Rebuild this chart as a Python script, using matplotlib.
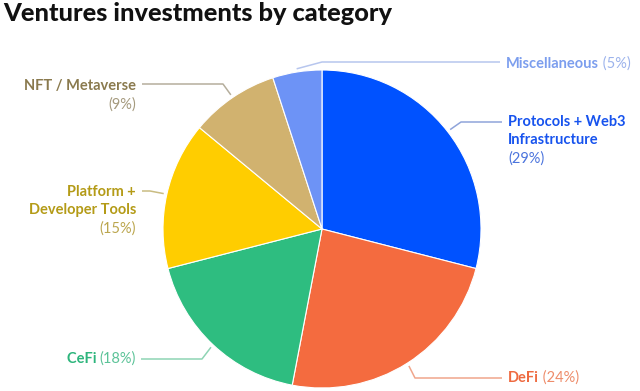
import numpy as np
import matplotlib
matplotlib.use("Agg")
import matplotlib.pyplot as plt

# ---- data ----
categories = ["Protocols + Web3\nInfrastructure", "DeFi", "CeFi",
              "Platform +\nDeveloper Tools", "NFT / Metaverse", "Miscellaneous"]
values = [29, 24, 18, 15, 9, 5]
pct_labels = ["(29%)", "(24%)", "(18%)", "(15%)", "(9%)", "(5%)"]
title = "Ventures investments by category"

# ---- styles ----
wedge_colors = ["#0052FF", "#F46B3F", "#2EBD80", "#FFCD00", "#D1B26F", "#6D93F6"]
name_colors = ["#1753EE", "#EE6A40", "#2DB57C", "#B49B17", "#8A7A4E", "#7C9EEE"]
pct_colors = ["#4B74DD", "#EE8C6A", "#5CC398", "#BBA64E", "#A59A7E", "#9CB3EC"]
line_colors = ["#8FA4DA", "#F0A68C", "#8ED4B4", "#C9BC82", "#B5AE9C", "#B7C6EE"]

W, H = 640, 391
def Y(py):
    return H - py

FONT = "Lato"
fig = plt.figure(figsize=(6.4, 3.91), dpi=100)
ax = fig.add_axes([0, 0, 1, 1])
cx, cy, R = 322, 229, 159
wedges, _ = ax.pie(values, colors=wedge_colors, startangle=90, counterclock=False,
                   center=(cx, Y(cy)), radius=R,
                   wedgeprops=dict(edgecolor="white", linewidth=0.8))
ax.set_xlim(0, W)
ax.set_ylim(0, H)
ax.set_aspect("equal")
ax.axis("off")

fig.text(3 / W, 1 - 2 / H, title, ha="left", va="top", fontsize=18.3,
         fontweight="black", family=FONT, color="#111111")

# leader-line layout: elbow, end, text anchor, alignment (pixel coords)
layout = [
    dict(elbow=(461, 122), end=(502, 122), text=(508, 122), side="left", pct_newline=True),
    dict(elbow=(415, 378), end=(502, 378), text=(508, 378), side="left", pct_newline=False),
    dict(elbow=(202, 359), end=(141, 359), text=(136, 359), side="right", pct_newline=False),
    dict(elbow=(150, 191), end=(142, 191), text=(136, 192), side="right", pct_newline=True),
    dict(elbow=(223, 84), end=(142, 84), text=(136, 86), side="right", pct_newline=True),
    dict(elbow=(322, 62), end=(500, 62), text=(506, 64), side="left", pct_newline=False),
]

fs = 10.5
lh = 18.3
for i, w in enumerate(wedges):
    lay = layout[i]
    mid = np.deg2rad((w.theta1 + w.theta2) / 2)
    sx = cx + R * 1.02 * np.cos(mid)
    sy = Y(cy) + R * 1.02 * np.sin(mid)
    ex, ey = lay["elbow"]
    fx, fy = lay["end"]
    ax.plot([sx, ex, fx], [sy, Y(ey), Y(fy)], color=line_colors[i], lw=1.1,
            solid_capstyle="butt")
    tx, ty = lay["text"]
    lines = categories[i].split("\n")
    ha = lay["side"]
    if lay["pct_newline"]:
        for k, ln in enumerate(lines):
            ax.text(tx, Y(ty + k * lh), ln, ha=ha, va="center", fontsize=fs,
                    fontweight="bold", family=FONT, color=name_colors[i])
        ax.text(tx, Y(ty + len(lines) * lh), pct_labels[i], ha=ha, va="center",
                fontsize=fs, family=FONT, color=pct_colors[i])
    else:
        if ha == "left":
            t = ax.text(tx, Y(ty) - 4, lines[0], ha="left", va="baseline", fontsize=fs,
                        fontweight="bold", family=FONT, color=name_colors[i])
            ax.annotate(" " + pct_labels[i], xy=(1, 0), xycoords=t, ha="left",
                        va="bottom", fontsize=fs, family=FONT, color=pct_colors[i],
                        annotation_clip=False)
        else:
            t = ax.text(tx, Y(ty) - 4, pct_labels[i], ha="right", va="baseline",
                        fontsize=fs, family=FONT, color=pct_colors[i])
            ax.annotate(lines[0] + " ", xy=(0, 0), xycoords=t, ha="right",
                        va="bottom", fontsize=fs, fontweight="bold", family=FONT,
                        color=name_colors[i], annotation_clip=False)

fig.savefig("out.png", dpi=100, facecolor="white")
